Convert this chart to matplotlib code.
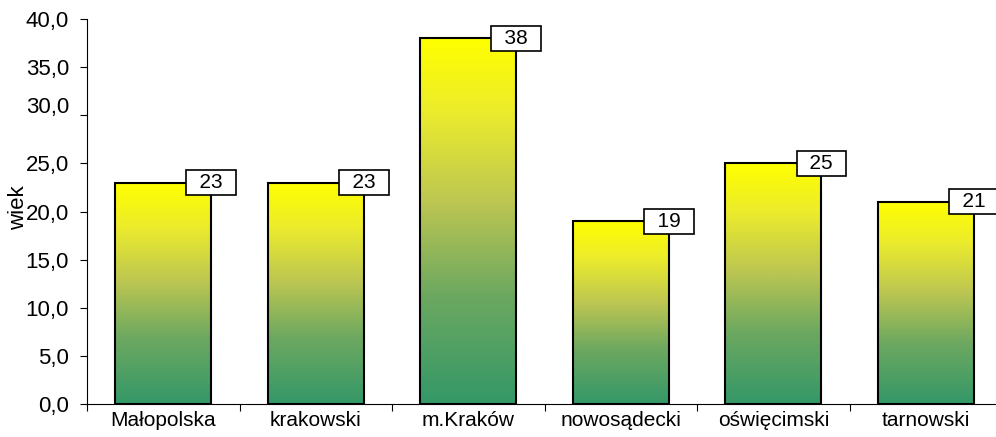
import matplotlib.pyplot as plt
import numpy as np
from matplotlib.colors import LinearSegmentedColormap
from matplotlib.ticker import FixedLocator
from matplotlib.transforms import ScaledTranslation

# dane
categories = ["Małopolska", "krakowski", "m.Kraków", "nowosądecki", "oświęcimski", "tarnowski"]
values = [23, 23, 38, 19, 25, 21]
yticks = [0, 5, 10, 15, 20, 25, 30, 35, 40]
ytick_labels = ["0,0", "5,0", "10,0", "15,0", "20,0", "25,0", "30,0", "35,0", "40,0"]

plt.rcParams['font.family'] = ['Liberation Sans', 'DejaVu Sans']

fig = plt.figure(figsize=(9.96, 4.37), dpi=100)
ax = fig.add_axes([0.0873, 0.0755, 0.919, 0.881])

# gradient: zielony na dole, żółty na górze
cmap = LinearSegmentedColormap.from_list("yg", [
    (0.0, "#349868"), (0.3, "#6da860"), (0.55, "#bcc652"),
    (0.8, "#ecec2c"), (1.0, "#ffff00")])
grad = np.linspace(0, 1, 256).reshape(-1, 1)

width = 0.63
x = np.arange(len(categories))
bars = ax.bar(x, values, width=width, facecolor="none", edgecolor="black", linewidth=1.5, zorder=3)
for b, v in zip(bars, values):
    x0 = b.get_x()
    ax.imshow(grad, cmap=cmap, aspect="auto", origin="lower",
              extent=[x0, x0 + width, 0, v], zorder=2)
    ax.text(x0 + width, v, f"\u2002{v}\u2002", ha="center", va="center", fontsize=15, zorder=4,
            bbox=dict(boxstyle="square,pad=0.14", fc="white", ec="black", lw=1.2))

ax.set_xlim(-0.5, len(categories) - 0.5)
ax.set_ylim(0, 40)

ax.spines['top'].set_visible(False)
ax.spines['right'].set_visible(False)
ax.spines['left'].set_linewidth(0.8)
ax.spines['bottom'].set_linewidth(0.8)

ax.set_yticks(yticks)
ax.set_yticklabels(ytick_labels, fontsize=16)
ax.tick_params(axis='y', length=5, width=0.8, pad=8)
# etykieta 30,0 w oryginale jest nieco przesunięta w górę
lbl30 = ax.get_yticklabels()[6]
lbl30.set_transform(lbl30.get_transform() + ScaledTranslation(0, 10 / 100, fig.dpi_scale_trans))

ax.set_xticks(x)
ax.set_xticklabels(categories, fontsize=15)
ax.tick_params(axis='x', which='major', length=0, pad=5)
ax.xaxis.set_minor_locator(FixedLocator(np.arange(-0.5, len(categories), 1.0)))
ax.tick_params(axis='x', which='minor', length=5, width=0.8)

ax.set_ylabel("wiek", fontsize=16)
ax.yaxis.set_label_coords(-0.063, 0.509)

fig.savefig("out.png", dpi=100)
